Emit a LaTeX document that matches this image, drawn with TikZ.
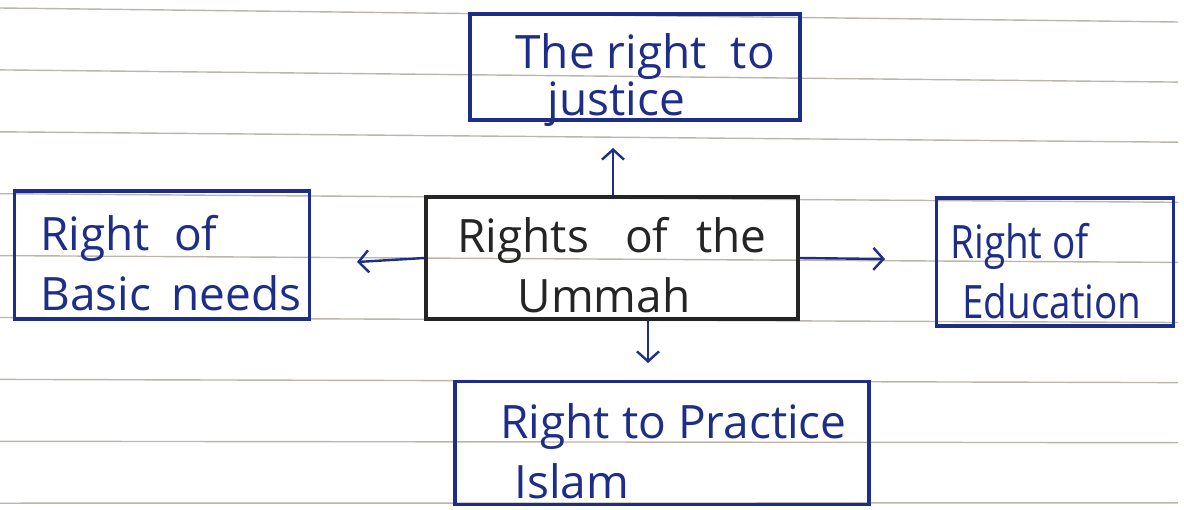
\documentclass[tikz,border=0pt]{standalone}
\usepackage{fontspec}
\setmainfont{Open Sans}
\newfontfamily\narrowhand{Open Sans}[FakeStretch=0.84]
\usetikzlibrary{arrows.meta,positioning}
\definecolor{ink}{HTML}{1E2E88}
\definecolor{pencil}{HTML}{252525}
\definecolor{ruling}{HTML}{BAB6AB}
\tikzset{box/.style={draw=ink, line width=1.7pt, rectangle, inner sep=0pt},
  boxtext/.style={text=ink, inner sep=0pt, align=left, font=\fontsize{23}{30}\selectfont},
  arr/.style={ink, line width=1.2pt, -{Straight Barb[length=5pt,width=11pt]}}}

\begin{document}
\begin{tikzpicture}[x=0.5pt,y=-0.5pt]
\useasboundingbox (0,0) rectangle (1184,509);

\foreach \k in {0,...,8}
  \draw[ruling, line width=0.7pt] (0,{8+61.9*\k}) -- (1178,{22+60.1*\k});

\node[box, minimum width=165pt, minimum height=53pt] (justice) at (635,67) {};
\node[box, draw=pencil, minimum width=186pt, minimum height=61pt] (umma) at (612,258) {};
\node[box, minimum width=147.5pt, minimum height=64pt] (basic) at (162,255) {};
\node[box, minimum width=118.5pt, minimum height=64pt] (edu) at (1055,262) {};
\node[box, minimum width=207pt, minimum height=61.5pt] (islam) at (662,443) {};

\node[boxtext, anchor=west, font=\fontsize{23}{19}\selectfont] (justicetext) at (515,80) {The right\hspace{6pt} to\\\hspace*{16pt}justice};
\node[boxtext, text=pencil, align=center] (ummatext) at (612,265) {Rights\hspace{12pt} of\hspace{8pt} the\\\hspace*{-8pt}Ummah};
\node[boxtext, anchor=west] (basictext) at (40,263) {Right\hspace{6pt} of\\Basic\hspace{4pt} needs};
\node[boxtext, anchor=west, font=\narrowhand\fontsize{23}{30}\selectfont] (edutext) at (950,271) {Right of\\\hspace*{6pt}Education};
\node[boxtext, anchor=west] (islamtext) at (500,451) {Right to Practice\\\hspace*{7pt}Islam};

\coordinate (upend) at (613,148);
\coordinate (leftend) at (357,262);
\coordinate (rightend) at (885,259);
\coordinate (downend) at (648,363);

\draw[arr] (umma.north -| upend) -- (upend);
\draw[arr] (umma.west) -- (leftend);
\draw[arr] (umma.east) -- (rightend);
\draw[arr] (umma.south -| downend) -- (downend);
\end{tikzpicture}
\end{document}
